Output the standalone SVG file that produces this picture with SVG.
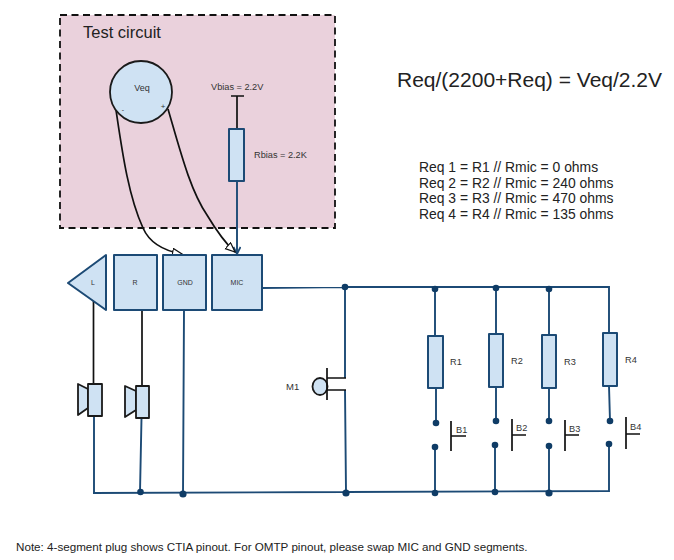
<svg xmlns="http://www.w3.org/2000/svg" width="674" height="560" viewBox="0 0 674 560">
<style>
text{font-family:"Liberation Sans",Arial,sans-serif;fill:#222}
.s{font-size:7px;text-anchor:middle;fill:#333}
.m{font-size:9.200px;fill:#333}
.e{font-size:13.900px}
.part{fill:#cfe2f3;stroke:#1c4a75;stroke-width:2;stroke-linejoin:round}
.partk{fill:#cfe2f3;stroke:#1a1a1a;stroke-width:1.800;stroke-linejoin:round}
.w{fill:none;stroke:#1c4a75;stroke-width:1.900}
.k{fill:none;stroke:#111;stroke-width:1.700}
.d{fill:#0f3c66;stroke:none}
</style>
<defs>
<marker id="open" markerWidth="12" markerHeight="10" refX="10" refY="4.500" orient="auto" markerUnits="userSpaceOnUse"><path d="M0.500,0.500 L10,4.500 L0.500,8.500 Z" fill="#fff" stroke="#111" stroke-width="1.200"/></marker>
<marker id="blue" markerWidth="10" markerHeight="10" refX="8" refY="4" orient="auto" markerUnits="userSpaceOnUse"><path d="M1,0.500 L8,4 L1,7.500" fill="none" stroke="#1c4a75" stroke-width="1.700"/></marker>
</defs>
<g id="test-circuit"><rect x="60" y="15" width="275" height="213" fill="#ead1dc" stroke="#111" stroke-width="1.800" stroke-dasharray="7 4.500"/><text x="83" y="38" font-size="16.500">Test circuit</text></g>
<g id="connectors">
<path class="w" d="M237,181 V254" marker-end="url(#blue)"/>
<path class="k" d="M237,96 V129 M231,96 H244"/>
<path class="k" d="M116,110 C122,150 128,195 143,228 C150,244 165,251 182,254" marker-end="url(#open)"/>
<path class="k" d="M168,109 C180,150 190,190 207,215 C216,230 225,243 235,252" marker-end="url(#open)"/>
<path class="k" d="M93.500,301 V384 M142,310 V386"/>
<path class="w" d="M94,416 V493 M141.500,418 L140,492 M184,310 L183,494 M261,288 L345,287 V378 M345,390 L346,492 M93,493 L346,492 L609,491 V444 M345,287 H609 V333 M609,386 L610,421 M435,288 V336 M436,388 V423 M435,447 L435,492 M496,288 V334 M496,387 V421 M495,445 V492 M549,288 V335 M549,388 V421 M549,446 V492"/>
<g class="d">
<circle cx="345" cy="287" r="3.300"/><circle cx="435" cy="289" r="3.300"/><circle cx="496" cy="288" r="3.300"/><circle cx="549" cy="289" r="3.300"/>
<circle cx="436" cy="423" r="3.300"/><circle cx="435" cy="447" r="3.300"/><circle cx="496" cy="421" r="3.300"/><circle cx="495" cy="445" r="3.300"/><circle cx="549" cy="421" r="3.300"/><circle cx="549" cy="446" r="3.300"/><circle cx="610" cy="421" r="3.300"/><circle cx="609" cy="444" r="3.300"/>
<circle cx="140.500" cy="492" r="3.300"/><circle cx="183" cy="494" r="3.600"/><circle cx="346" cy="493" r="3.600"/><circle cx="435" cy="493" r="3.300"/><circle cx="495" cy="492" r="3.300"/><circle cx="549" cy="493" r="3.600"/>
</g>
</g>
<g id="veq"><circle class="partk" cx="141" cy="92" r="31"/><text class="s" x="142" y="91" style="font-size:9px">Veq</text><text class="s" x="123" y="112">-</text><text class="s" x="163" y="109" style="font-size:8px">+</text></g>
<g id="vbias"><text class="m" x="211" y="90">Vbias = 2.2V</text></g>
<g id="rbias"><rect class="part" x="229" y="129" width="15" height="52"/><text class="m" x="254" y="158">Rbias = 2.2K</text></g>
<g id="plug-l"><path class="part" d="M68,283 L106,255 V310 Z"/><text class="s" x="93" y="285">L</text></g>
<g id="plug-r"><rect class="part" x="114" y="255" width="43" height="55"/><text class="s" x="135" y="285">R</text></g>
<g id="plug-gnd"><rect class="part" x="163" y="255" width="43" height="55"/><text class="s" x="185" y="285">GND</text></g>
<g id="plug-mic"><rect class="part" x="212" y="255" width="50" height="55"/><text class="s" x="237" y="285">MIC</text></g>
<g id="spk-l"><path class="partk" d="M88,389 L78,384 V415 L88,408 Z"/><rect class="partk" x="88" y="384" width="14" height="32"/></g>
<g id="spk-r"><path class="partk" d="M136,391 L125,386 V417 L136,410 Z"/><rect class="partk" x="136" y="386" width="13" height="32"/></g>
<g id="m1"><ellipse class="partk" cx="320" cy="386.500" rx="7.500" ry="8.500"/><path class="k" d="M327,368 V400 M327,378 H346 M327,390 H346"/><text class="m" x="286" y="390" style="font-size:9.500px">M1</text></g>
<g id="r1"><rect class="part" x="428" y="336" width="15" height="52"/><text class="m" x="450" y="365">R1</text></g>
<g id="r2"><rect class="part" x="489" y="334" width="14" height="53"/><text class="m" x="511" y="364">R2</text></g>
<g id="r3"><rect class="part" x="542" y="335" width="14" height="53"/><text class="m" x="564" y="365">R3</text></g>
<g id="r4"><rect class="part" x="603" y="333" width="14" height="53"/><text class="m" x="625" y="363">R4</text></g>
<g id="b1"><path class="k" d="M451,421 V451 M451,436 H466"/><text class="m" x="456" y="433">B1</text></g>
<g id="b2"><path class="k" d="M512,419 V451 M512,435 H526"/><text class="m" x="516" y="431">B2</text></g>
<g id="b3"><path class="k" d="M565,420 V451 M565,435 H579"/><text class="m" x="569" y="432">B3</text></g>
<g id="b4"><path class="k" d="M626,417 V449 M626,434 H640"/><text class="m" x="630" y="430">B4</text></g>
<g id="notes">
<text x="397" y="87" font-size="21">Req/(2200+Req) = Veq/2.2V</text>
<text class="e" x="419" y="172">Req 1 = R1 // Rmic = 0 ohms</text>
<text class="e" x="419" y="188">Req 2 = R2 // Rmic = 240 ohms</text>
<text class="e" x="419" y="203">Req 3 = R3 // Rmic = 470 ohms</text>
<text class="e" x="419" y="219">Req 4 = R4 // Rmic = 135 ohms</text>
<text x="16" y="551" font-size="11.650">Note: 4-segment plug shows CTIA pinout. For OMTP pinout, please swap MIC and GND segments.</text>
</g>
</svg>
